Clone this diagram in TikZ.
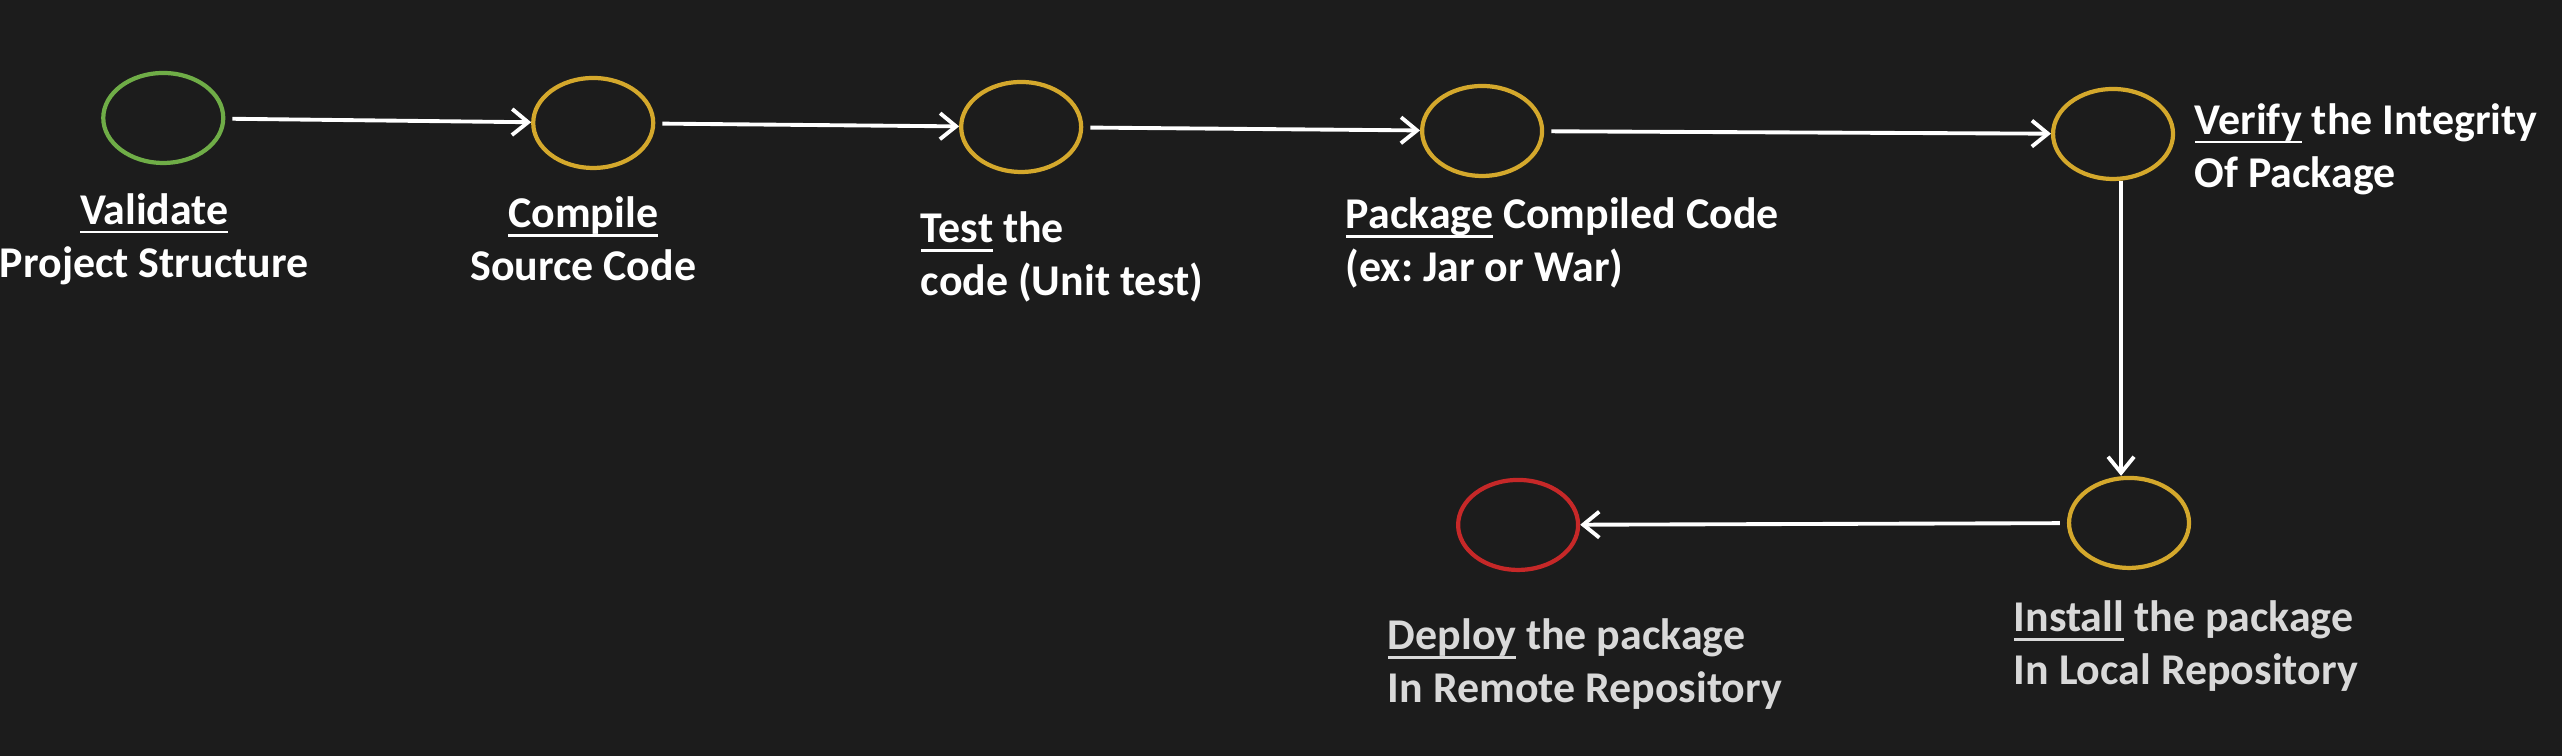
\documentclass[tikz,border=0pt]{standalone}
\usepackage{fontspec}
\setmainfont{Carlito}
\frenchspacing
\newcommand{\uword}[1]{\setbox0\hbox{#1}\rlap{\rule[-2.6pt]{\wd0}{0.8pt}}\box0\relax}
\usetikzlibrary{shapes.geometric,arrows.meta}
\definecolor{bgdark}{HTML}{1C1C1C}
\definecolor{stepgreen}{HTML}{6FAD47}
\definecolor{stepgold}{HTML}{D4A82C}
\definecolor{stepred}{HTML}{C62828}
\definecolor{textgray}{HTML}{D9D9D9}

\begin{document}
\begin{tikzpicture}[x=0.1mm,y=0.1mm,
		stage/.style={draw,ellipse,line width=1.2pt,minimum width=12mm,minimum height=9mm,inner sep=0pt},
		flow/.style={white,line width=1.1pt,-{Straight Barb[length=1.6mm,width=2.6mm]},shorten <=2pt},
		caption/.style={text=white,font=\fontsize{12.5}{15}\selectfont\bfseries,inner sep=0pt}]
		\fill[bgdark] (0,0) rectangle (2562,756);

		% maven phases
		\node[stage,stepgreen] (validate) at (163,638) {};
		\node[stage,stepgold] (compile) at (593,633) {};
		\node[stage,stepgold] (test) at (1021,629) {};
		\node[stage,stepgold] (package) at (1482,625) {};
		\node[stage,stepgold] (verify) at (2113,622) {};
		\node[stage,stepgold] (install) at (2129,233) {};
		\node[stage,stepred] (deploy) at (1518,231) {};

		\foreach \a/\b in {validate/compile,compile/test,test/package,package/verify}
		\draw[flow] (\a) -- (\b);
		\draw[flow,shorten <=0pt] ([xshift=0.8mm]verify.south) -- ([xshift=-0.8mm]install.north);
		\draw[flow] (install) -- (deploy);

		% captions
		\node[caption,align=center] (validate-lbl) at (154,517) {\uword{Validate}\\Project Structure};
		\node[caption,align=center] (compile-lbl) at (583,517) {\uword{Compile}\\Source Code};
		\node[caption,align=left,anchor=west] (test-lbl) at (920,499) {\uword{Test} the\\code (Unit test)};
		\node[caption,align=left,anchor=west] (package-lbl) at (1345,513) {\uword{Package} Compiled Code\\(ex: Jar or War)};
		\node[caption,align=left,anchor=west] (verify-lbl) at (2194,607) {\uword{Verify} the Integrity\\Of Package};
		\node[caption,align=left,anchor=west,text=textgray] (install-lbl) at (2013,110) {\uword{Install} the package\\In Local Repository};
		\node[caption,align=left,anchor=west,text=textgray] (deploy-lbl) at (1387,92) {\uword{Deploy} the package\\In Remote Repository};
\end{tikzpicture}
\end{document}
